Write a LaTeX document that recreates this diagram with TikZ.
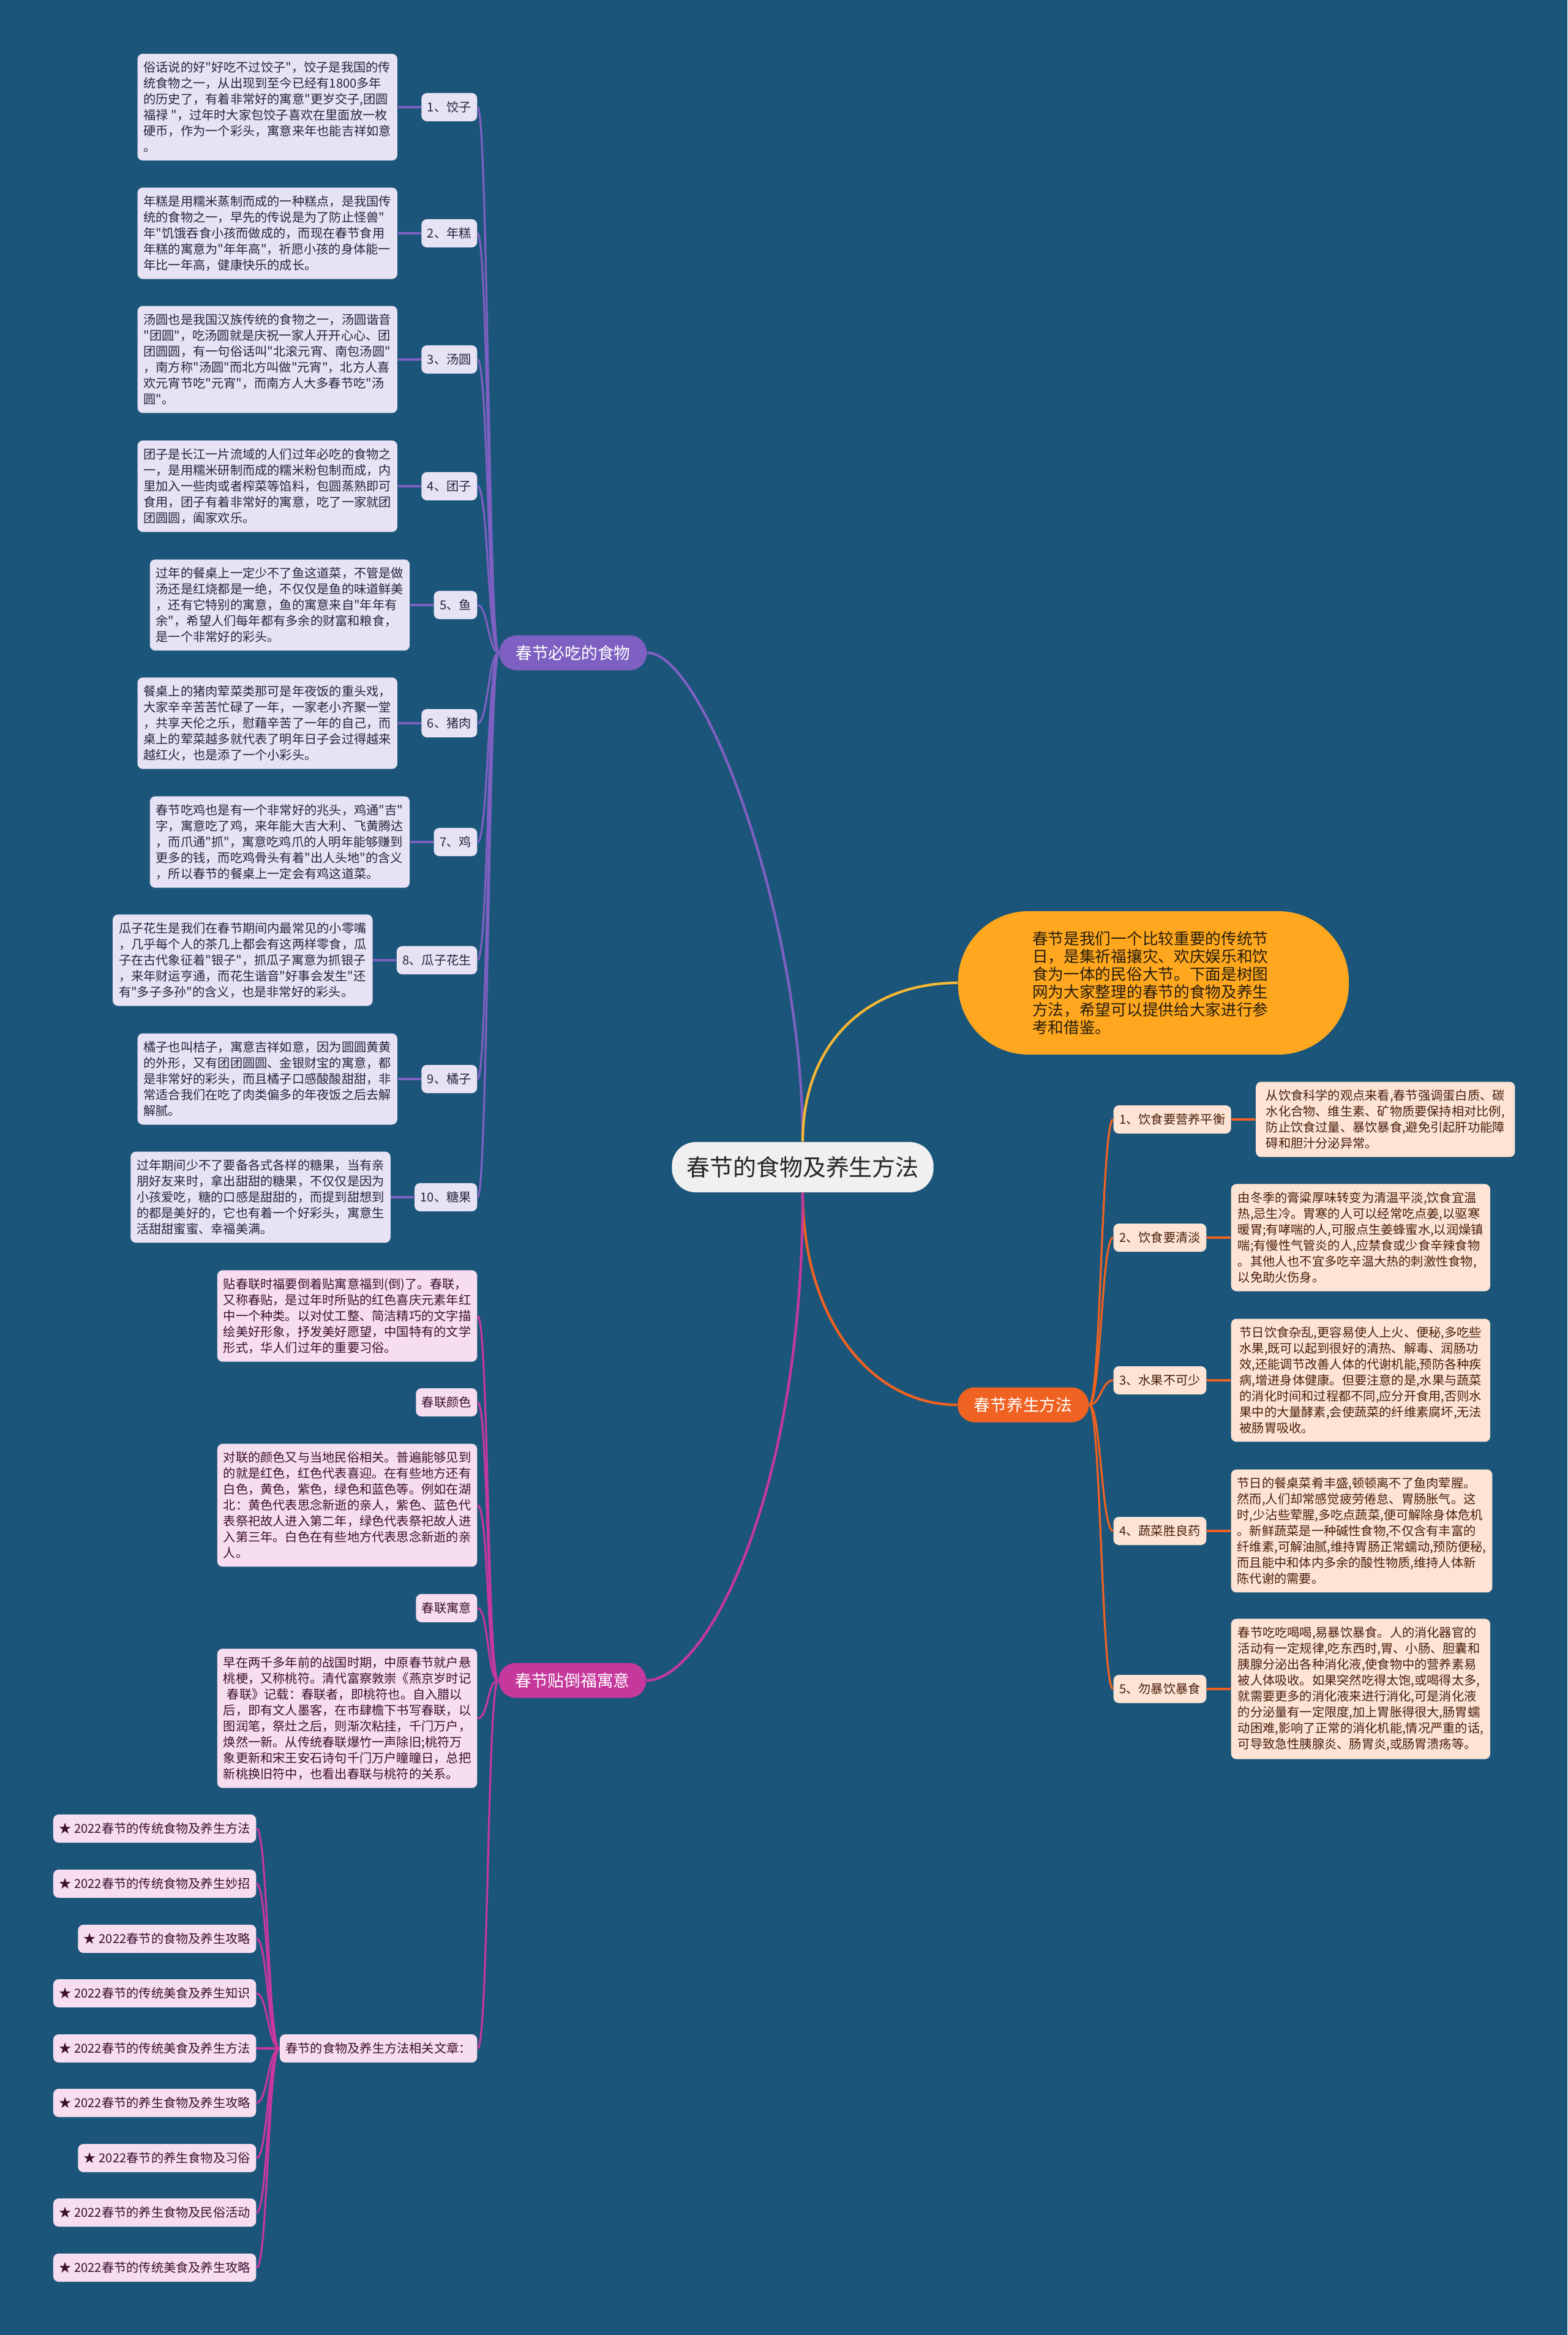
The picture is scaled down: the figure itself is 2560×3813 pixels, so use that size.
\documentclass[tikz,border=0pt]{standalone}
\usepackage{fontspec}
\newfontfamily\cjk{Noto Sans CJK SC}
\usepackage{tikz}
\usetikzlibrary{positioning}
\definecolor{bgblue}{RGB}{27,85,121}
\definecolor{foodpurple}{RGB}{126,96,194}
\definecolor{foodleaf}{RGB}{231,227,245}
\definecolor{foodtext}{RGB}{40,36,60}
\definecolor{fumagenta}{RGB}{197,56,156}
\definecolor{fuleaf}{RGB}{247,221,240}
\definecolor{futext}{RGB}{60,16,46}
\definecolor{healthred}{RGB}{240,98,34}
\definecolor{healthleaf}{RGB}{253,228,212}
\definecolor{healthtext}{RGB}{74,32,12}
\definecolor{introorange}{RGB}{255,167,30}
\definecolor{introline}{RGB}{246,184,52}
\definecolor{introtext}{RGB}{38,30,12}
\definecolor{rootgray}{RGB}{240,240,240}

\begin{document}
\begin{tikzpicture}[x=0.01cm,y=-0.01cm,
    box text/.style={font=\cjk\fontsize{5.75pt}{7.4pt}\selectfont},
    list text/.style={font=\cjk\fontsize{5.75pt}{7pt}\selectfont}]
  \tikzstyle{leaf node}=[rounded corners=2.5pt,inner xsep=0.1cm,inner ysep=0.13cm,align=left,minimum width=4.24cm,box text]
  \tikzstyle{tag node}=[rounded corners=2.5pt,inner xsep=0.095cm,minimum height=0.46cm,box text]
  \tikzstyle{branch node}=[rounded corners=8pt,minimum height=0.57cm,inner xsep=0.27cm,text=white,font=\cjk\fontsize{7.6pt}{9pt}\selectfont]
  \tikzstyle{food leaf}=[leaf node,fill=foodleaf,text=foodtext]
  \tikzstyle{food tag}=[tag node,fill=foodleaf,text=foodtext,anchor=east]
  \tikzstyle{fu leaf}=[leaf node,fill=fuleaf,text=futext,anchor=east]
  \tikzstyle{fu tag}=[tag node,fill=fuleaf,text=futext,anchor=east]
  \tikzstyle{list tag}=[tag node,fill=fuleaf,text=futext,anchor=east,list text]
  \tikzstyle{health leaf}=[leaf node,fill=healthleaf,text=healthtext,minimum width=4.23cm]
  \tikzstyle{health tag}=[tag node,fill=healthleaf,text=healthtext,anchor=west]
  \tikzstyle{main line}=[line width=1.2pt]
  \tikzstyle{sub line}=[line width=0.9pt]

  \useasboundingbox (0,0) rectangle (2560,3813);
  \fill[bgblue] (0,0) rectangle (2560,3813);

  % root and intro
  \node[fill=rootgray,text=black!85,rounded corners=11pt,minimum width=4.27cm,minimum height=0.82cm,
        font=\cjk\fontsize{10.8pt}{12pt}\selectfont] (root) at (1311,1906) {春节的食物及养生方法};
  \node[fill=introorange,text=introtext,rounded corners=1.15cm,minimum width=6.38cm,minimum height=2.34cm,
        text width=3.95cm,inner xsep=1.2cm,align=left,font=\cjk\fontsize{7.3pt}{8.25pt}\selectfont,anchor=west] (intro) at (1564,1605)
    {春节是我们一个比较重要的传统节\\日，是集祈福攘灾、欢庆娱乐和饮\\食为一体的民俗大节。下面是树图\\网为大家整理的春节的食物及养生\\方法，希望可以提供给大家进行参\\考和借鉴。};

  % branches
  \node[branch node,fill=foodpurple] (food) at (936,1066) {春节必吃的食物};
  \node[branch node,fill=healthred] (health) at (1671,2294) {春节养生方法};
  \node[branch node,fill=fumagenta] (fu) at (935,2744) {春节贴倒福寓意};

  \draw[main line,foodpurple] (root.north) .. controls (1311,1500) and (1150,1066) .. (food.east);
  \draw[main line,introline] (root.north) .. controls (1311,1700) and (1420,1605) .. (intro.west);
  \draw[main line,healthred] (root.south) .. controls (1311,2150) and (1420,2294) .. (health.west);
  \draw[main line,fumagenta] (root.south) .. controls (1311,2450) and (1150,2744) .. (fu.east);

  % food branch
  \node[food tag] (f1) at (780,175) {1、饺子};
  \node[food tag] (f2) at (780,381) {2、年糕};
  \node[food tag] (f3) at (780,587) {3、汤圆};
  \node[food tag] (f4) at (780,794) {4、团子};
  \node[food tag] (f5) at (780,988) {5、鱼};
  \node[food tag] (f6) at (780,1181) {6、猪肉};
  \node[food tag] (f7) at (780,1375) {7、鸡};
  \node[food tag] (f8) at (780,1568) {8、瓜子花生};
  \node[food tag] (f9) at (780,1762) {9、橘子};
  \node[food tag] (f10) at (780,1955) {10、糖果};

  \node[food leaf,left=0.38cm of f1] (fb1) {俗话说的好"好吃不过饺子"，饺子是我国的传\\统食物之一，从出现到至今已经有1800多年\\的历史了，有着非常好的寓意"更岁交子,团圆\\福禄 "，过年时大家包饺子喜欢在里面放一枚\\硬币，作为一个彩头，寓意来年也能吉祥如意\\。};
  \node[food leaf,left=0.38cm of f2] (fb2) {年糕是用糯米蒸制而成的一种糕点，是我国传\\统的食物之一，早先的传说是为了防止怪兽"\\年"饥饿吞食小孩而做成的，而现在春节食用\\年糕的寓意为"年年高"，祈愿小孩的身体能一\\年比一年高，健康快乐的成长。};
  \node[food leaf,left=0.38cm of f3] (fb3) {汤圆也是我国汉族传统的食物之一，汤圆谐音\\"团圆"，吃汤圆就是庆祝一家人开开心心、团\\团圆圆，有一句俗话叫"北滚元宵、南包汤圆"\\，南方称"汤圆"而北方叫做"元宵"，北方人喜\\欢元宵节吃"元宵"，而南方人大多春节吃"汤\\圆"。};
  \node[food leaf,left=0.38cm of f4] (fb4) {团子是长江一片流域的人们过年必吃的食物之\\一，是用糯米研制而成的糯米粉包制而成，内\\里加入一些肉或者榨菜等馅料，包圆蒸熟即可\\食用，团子有着非常好的寓意，吃了一家就团\\团圆圆，阖家欢乐。};
  \node[food leaf,left=0.38cm of f5] (fb5) {过年的餐桌上一定少不了鱼这道菜，不管是做\\汤还是红烧都是一绝，不仅仅是鱼的味道鲜美\\，还有它特别的寓意，鱼的寓意来自"年年有\\余"，希望人们每年都有多余的财富和粮食，\\是一个非常好的彩头。};
  \node[food leaf,left=0.38cm of f6] (fb6) {餐桌上的猪肉荤菜类那可是年夜饭的重头戏，\\大家辛辛苦苦忙碌了一年，一家老小齐聚一堂\\，共享天伦之乐，慰藉辛苦了一年的自己，而\\桌上的荤菜越多就代表了明年日子会过得越来\\越红火，也是添了一个小彩头。};
  \node[food leaf,left=0.38cm of f7] (fb7) {春节吃鸡也是有一个非常好的兆头，鸡通"吉"\\字，寓意吃了鸡，来年能大吉大利、飞黄腾达\\，而爪通"抓"，寓意吃鸡爪的人明年能够赚到\\更多的钱，而吃鸡骨头有着"出人头地"的含义\\，所以春节的餐桌上一定会有鸡这道菜。};
  \node[food leaf,left=0.38cm of f8] (fb8) {瓜子花生是我们在春节期间内最常见的小零嘴\\，几乎每个人的茶几上都会有这两样零食，瓜\\子在古代象征着"银子"，抓瓜子寓意为抓银子\\，来年财运亨通，而花生谐音"好事会发生"还\\有"多子多孙"的含义，也是非常好的彩头。};
  \node[food leaf,left=0.38cm of f9] (fb9) {橘子也叫桔子，寓意吉祥如意，因为圆圆黄黄\\的外形，又有团团圆圆、金银财宝的寓意，都\\是非常好的彩头，而且橘子口感酸酸甜甜，非\\常适合我们在吃了肉类偏多的年夜饭之后去解\\解腻。};
  \node[food leaf,left=0.38cm of f10] (fb10) {过年期间少不了要备各式各样的糖果，当有亲\\朋好友来时，拿出甜甜的糖果，不仅仅是因为\\小孩爱吃，糖的口感是甜甜的，而提到甜想到\\的都是美好的，它也有着一个好彩头，寓意生\\活甜甜蜜蜜、幸福美满。};

  \draw[sub line,foodpurple] (food.west) .. controls +(-17,0) and +(17,0) .. (f1.east);
  \draw[sub line,foodpurple] (food.west) .. controls +(-17,0) and +(17,0) .. (f2.east);
  \draw[sub line,foodpurple] (food.west) .. controls +(-17,0) and +(17,0) .. (f3.east);
  \draw[sub line,foodpurple] (food.west) .. controls +(-17,0) and +(17,0) .. (f4.east);
  \draw[sub line,foodpurple] (food.west) .. controls +(-17,0) and +(17,0) .. (f5.east);
  \draw[sub line,foodpurple] (food.west) .. controls +(-17,0) and +(17,0) .. (f6.east);
  \draw[sub line,foodpurple] (food.west) .. controls +(-17,0) and +(17,0) .. (f7.east);
  \draw[sub line,foodpurple] (food.west) .. controls +(-17,0) and +(17,0) .. (f8.east);
  \draw[sub line,foodpurple] (food.west) .. controls +(-17,0) and +(17,0) .. (f9.east);
  \draw[sub line,foodpurple] (food.west) .. controls +(-17,0) and +(17,0) .. (f10.east);
  \draw[sub line,foodpurple] (fb1.east) -- (f1.west);
  \draw[sub line,foodpurple] (fb2.east) -- (f2.west);
  \draw[sub line,foodpurple] (fb3.east) -- (f3.west);
  \draw[sub line,foodpurple] (fb4.east) -- (f4.west);
  \draw[sub line,foodpurple] (fb5.east) -- (f5.west);
  \draw[sub line,foodpurple] (fb6.east) -- (f6.west);
  \draw[sub line,foodpurple] (fb7.east) -- (f7.west);
  \draw[sub line,foodpurple] (fb8.east) -- (f8.west);
  \draw[sub line,foodpurple] (fb9.east) -- (f9.west);
  \draw[sub line,foodpurple] (fb10.east) -- (f10.west);

  % health branch
  \node[health tag] (h1) at (1818,1828) {1、饮食要营养平衡};
  \node[health tag] (h2) at (1818,2021) {2、饮食要清淡};
  \node[health tag] (h3) at (1818,2254) {3、水果不可少};
  \node[health tag] (h4) at (1818,2500) {4、蔬菜胜良药};
  \node[health tag] (h5) at (1818,2758) {5、勿暴饮暴食};

  \node[health leaf,right=0.39cm of h1] (hb1) {从饮食科学的观点来看,春节强调蛋白质、碳\\水化合物、维生素、矿物质要保持相对比例,\\防止饮食过量、暴饮暴食,避免引起肝功能障\\碍和胆汁分泌异常。};
  \node[health leaf,right=0.39cm of h2] (hb2) {由冬季的膏粱厚味转变为清温平淡,饮食宜温\\热,忌生冷。胃寒的人可以经常吃点姜,以驱寒\\暖胃;有哮喘的人,可服点生姜蜂蜜水,以润燥镇\\喘;有慢性气管炎的人,应禁食或少食辛辣食物\\。其他人也不宜多吃辛温大热的刺激性食物,\\以免助火伤身。};
  \node[health leaf,right=0.39cm of h3] (hb3) {节日饮食杂乱,更容易使人上火、便秘,多吃些\\水果,既可以起到很好的清热、解毒、润肠功\\效,还能调节改善人体的代谢机能,预防各种疾\\病,增进身体健康。但要注意的是,水果与蔬菜\\的消化时间和过程都不同,应分开食用,否则水\\果中的大量酵素,会使蔬菜的纤维素腐坏,无法\\被肠胃吸收。};
  \node[health leaf,right=0.39cm of h4] (hb4) {节日的餐桌菜肴丰盛,顿顿离不了鱼肉荤腥。\\然而,人们却常感觉疲劳倦怠、胃肠胀气。这\\时,少沾些荤腥,多吃点蔬菜,便可解除身体危机\\。新鲜蔬菜是一种碱性食物,不仅含有丰富的\\纤维素,可解油腻,维持胃肠正常蠕动,预防便秘,\\而且能中和体内多余的酸性物质,维持人体新\\陈代谢的需要。};
  \node[health leaf,right=0.39cm of h5] (hb5) {春节吃吃喝喝,易暴饮暴食。人的消化器官的\\活动有一定规律,吃东西时,胃、小肠、胆囊和\\胰腺分泌出各种消化液,使食物中的营养素易\\被人体吸收。如果突然吃得太饱,或喝得太多,\\就需要更多的消化液来进行消化,可是消化液\\的分泌量有一定限度,加上胃胀得很大,肠胃蠕\\动困难,影响了正常的消化机能,情况严重的话,\\可导致急性胰腺炎、肠胃炎,或肠胃溃疡等。};

  \draw[sub line,healthred] (health.east) .. controls +(19,0) and +(-19,0) .. (h1.west);
  \draw[sub line,healthred] (health.east) .. controls +(19,0) and +(-19,0) .. (h2.west);
  \draw[sub line,healthred] (health.east) .. controls +(19,0) and +(-19,0) .. (h3.west);
  \draw[sub line,healthred] (health.east) .. controls +(19,0) and +(-19,0) .. (h4.west);
  \draw[sub line,healthred] (health.east) .. controls +(19,0) and +(-19,0) .. (h5.west);
  \draw[sub line,healthred] (h1.east) -- (hb1.west);
  \draw[sub line,healthred] (h2.east) -- (hb2.west);
  \draw[sub line,healthred] (h3.east) -- (hb3.west);
  \draw[sub line,healthred] (h4.east) -- (hb4.west);
  \draw[sub line,healthred] (h5.east) -- (hb5.west);

  % fu branch
  \node[fu leaf] (u1) at (780,2149) {贴春联时福要倒着贴寓意福到(倒)了。春联，\\又称春贴，是过年时所贴的红色喜庆元素年红\\中一个种类。以对仗工整、简洁精巧的文字描\\绘美好形象，抒发美好愿望，中国特有的文学\\形式，华人们过年的重要习俗。};
  \node[fu tag] (u2) at (780,2290) {春联颜色};
  \node[fu leaf] (u3) at (780,2458) {对联的颜色又与当地民俗相关。普遍能够见到\\的就是红色，红色代表喜迎。在有些地方还有\\白色，黄色，紫色，绿色和蓝色等。例如在湖\\北：黄色代表思念新逝的亲人，紫色、蓝色代\\表祭祀故人进入第二年，绿色代表祭祀故人进\\入第三年。白色在有些地方代表思念新逝的亲\\人。};
  \node[fu tag] (u4) at (780,2626) {春联寓意};
  \node[fu leaf] (u5) at (780,2806) {早在两千多年前的战国时期，中原春节就户悬\\桃梗，又称桃符。清代富察敦崇《燕京岁时记\\\hspace{0.3em}春联》记载：春联者，即桃符也。自入腊以\\后，即有文人墨客，在市肆檐下书写春联，以\\图润笔，祭灶之后，则渐次粘挂，千门万户，\\焕然一新。从传统春联爆竹一声除旧;桃符万\\象更新和宋王安石诗句千门万户瞳瞳日，总把\\新桃换旧符中，也看出春联与桃符的关系。};
  \node[list tag] (rel) at (780,3345) {春节的食物及养生方法相关文章：};

  \node[list tag] (a1) at (419,2986) {★ 2022春节的传统食物及养生方法};
  \node[list tag] (a2) at (419,3076) {★ 2022春节的传统食物及养生妙招};
  \node[list tag] (a3) at (419,3166) {★ 2022春节的食物及养生攻略};
  \node[list tag] (a4) at (419,3255) {★ 2022春节的传统美食及养生知识};
  \node[list tag] (a5) at (419,3345) {★ 2022春节的传统美食及养生方法};
  \node[list tag] (a6) at (419,3434) {★ 2022春节的养生食物及养生攻略};
  \node[list tag] (a7) at (419,3524) {★ 2022春节的养生食物及习俗};
  \node[list tag] (a8) at (419,3613) {★ 2022春节的养生食物及民俗活动};
  \node[list tag] (a9) at (419,3703) {★ 2022春节的传统美食及养生攻略};

  \draw[sub line,fumagenta] (fu.west) .. controls +(-18,0) and +(18,0) .. (u1.east);
  \draw[sub line,fumagenta] (fu.west) .. controls +(-18,0) and +(18,0) .. (u2.east);
  \draw[sub line,fumagenta] (fu.west) .. controls +(-18,0) and +(18,0) .. (u3.east);
  \draw[sub line,fumagenta] (fu.west) .. controls +(-18,0) and +(18,0) .. (u4.east);
  \draw[sub line,fumagenta] (fu.west) .. controls +(-18,0) and +(18,0) .. (u5.east);
  \draw[sub line,fumagenta] (fu.west) .. controls +(-18,0) and +(18,0) .. (rel.east);
  \draw[sub line,fumagenta] (rel.west) .. controls +(-18,0) and +(18,0) .. (a1.east);
  \draw[sub line,fumagenta] (rel.west) .. controls +(-18,0) and +(18,0) .. (a2.east);
  \draw[sub line,fumagenta] (rel.west) .. controls +(-18,0) and +(18,0) .. (a3.east);
  \draw[sub line,fumagenta] (rel.west) .. controls +(-18,0) and +(18,0) .. (a4.east);
  \draw[sub line,fumagenta] (rel.west) -- (a5.east);
  \draw[sub line,fumagenta] (rel.west) .. controls +(-18,0) and +(18,0) .. (a6.east);
  \draw[sub line,fumagenta] (rel.west) .. controls +(-18,0) and +(18,0) .. (a7.east);
  \draw[sub line,fumagenta] (rel.west) .. controls +(-18,0) and +(18,0) .. (a8.east);
  \draw[sub line,fumagenta] (rel.west) .. controls +(-18,0) and +(18,0) .. (a9.east);
\end{tikzpicture}
\end{document}
